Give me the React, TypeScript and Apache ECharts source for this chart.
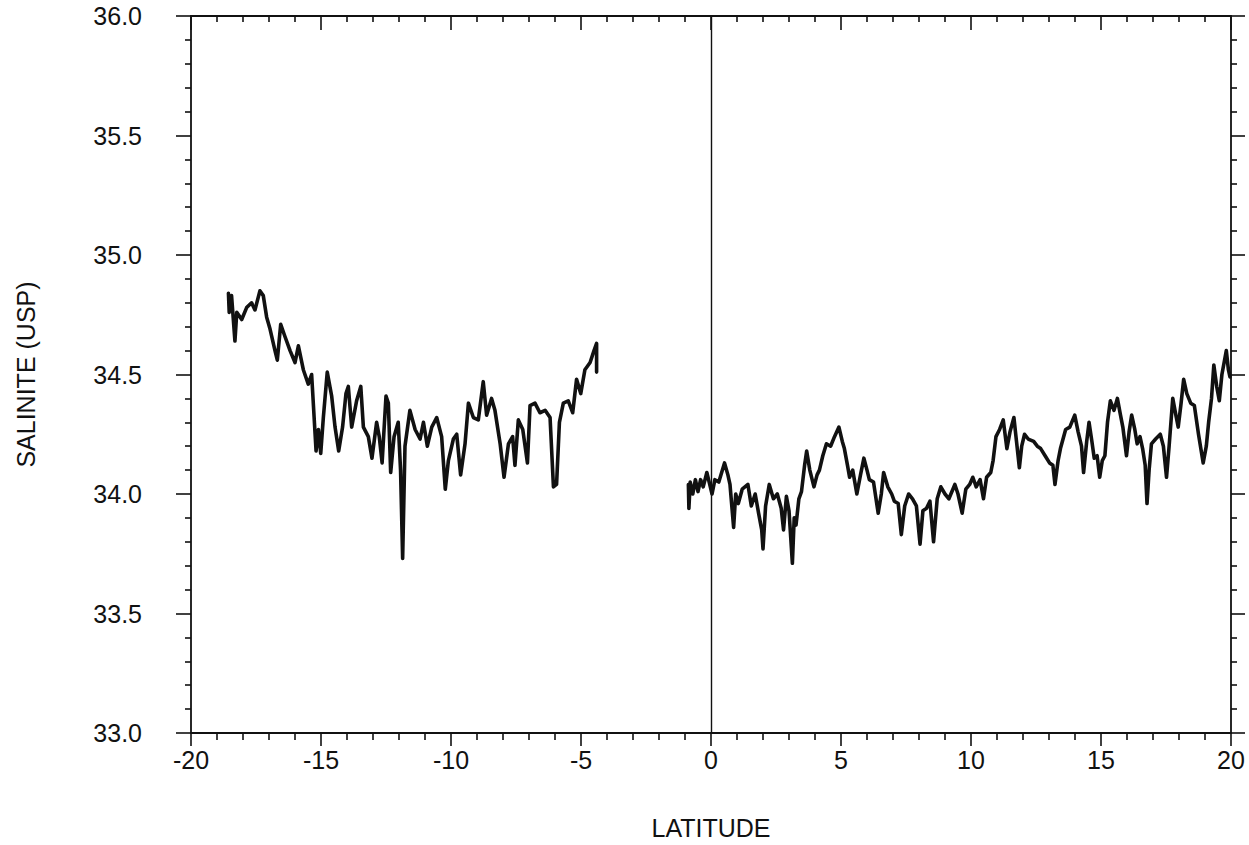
import React, { useEffect, useRef } from "react";
import * as echarts from "echarts";

// Axis configuration values
const xMin = -20;
const xMax = 20;
const xStep = 5;
const yMin = 33;
const yMax = 36;
const yStep = 0.5;

const xTitle = "LATITUDE";
const yTitle = "SALINITE (USP)";

// Southern segment (latitude, salinity)
const southLat = [
  -18.56, -18.53, -18.44, -18.31, -18.24, -18.05, -17.86, -17.67, -17.54, -17.35,
  -17.22, -17.09, -16.96, -16.77, -16.68, -16.55, -16.39, -16.19, -16.0, -15.87,
  -15.68, -15.49, -15.36, -15.19, -15.1, -15.01, -14.91, -14.76, -14.59, -14.46,
  -14.32, -14.17, -14.04, -13.95, -13.82, -13.63, -13.47, -13.37, -13.18, -13.04,
  -12.86, -12.76, -12.65, -12.5, -12.41, -12.32, -12.19, -12.03, -11.94, -11.86,
  -11.77, -11.58, -11.38, -11.19, -11.06, -10.91, -10.74, -10.55, -10.36, -10.22,
  -10.1, -9.91, -9.78, -9.63, -9.46, -9.33, -9.14, -8.95, -8.76, -8.63,
  -8.44, -8.31, -8.11, -7.96, -7.79, -7.63, -7.54, -7.41, -7.24, -7.06,
  -6.96, -6.77, -6.58, -6.38, -6.19, -6.06, -5.94, -5.83, -5.68, -5.49,
  -5.32, -5.17, -5.01, -4.85, -4.65, -4.5, -4.4, -4.4,
];
const southSal = [
  34.84, 34.76, 34.83, 34.64, 34.76, 34.73, 34.78, 34.8, 34.77, 34.85,
  34.83, 34.74, 34.69, 34.6, 34.56, 34.71, 34.66, 34.6, 34.55, 34.62,
  34.52, 34.46, 34.5, 34.18, 34.27, 34.17, 34.32, 34.51, 34.41, 34.28,
  34.18, 34.28, 34.42, 34.45, 34.28, 34.39, 34.45, 34.28, 34.24, 34.15,
  34.3, 34.24, 34.13, 34.41, 34.38, 34.09, 34.24, 34.3, 34.1, 33.73,
  34.2, 34.35, 34.27, 34.23, 34.3, 34.2, 34.28, 34.32, 34.24, 34.02,
  34.14, 34.23, 34.25, 34.08, 34.21, 34.38, 34.32, 34.31, 34.47, 34.33,
  34.4, 34.35, 34.21, 34.07, 34.21, 34.24, 34.12, 34.31, 34.27, 34.13,
  34.37, 34.38, 34.34, 34.35, 34.32, 34.03, 34.04, 34.3, 34.38, 34.39,
  34.34, 34.48, 34.42, 34.52, 34.55, 34.6, 34.63, 34.51,
];

// Northern segment (latitude, salinity)
const northLat = [
  -0.87, -0.85, -0.8, -0.7, -0.6, -0.5, -0.4, -0.3, -0.16, -0.05,
  0.04, 0.15, 0.3, 0.52, 0.65, 0.73, 0.87, 0.95, 1.05, 1.2,
  1.42, 1.55, 1.7, 1.83, 1.95, 2.0, 2.1, 2.24, 2.4, 2.55,
  2.7, 2.79, 2.9, 3.0, 3.13, 3.2, 3.27, 3.38, 3.48, 3.6,
  3.68, 3.8, 3.96, 4.08, 4.17, 4.3, 4.44, 4.6, 4.75, 4.92,
  5.05, 5.13, 5.25, 5.33, 5.45, 5.61, 5.75, 5.88, 6.0, 6.09,
  6.25, 6.43, 6.55, 6.64, 6.8, 6.95, 7.05, 7.2, 7.32, 7.45,
  7.6, 7.75, 7.9, 8.04, 8.15, 8.29, 8.42, 8.56, 8.7, 8.84,
  9.0, 9.15, 9.38, 9.5, 9.66, 9.8, 9.95, 10.07, 10.2, 10.35,
  10.48, 10.6, 10.76, 10.85, 10.96, 11.1, 11.24, 11.38, 11.5, 11.65,
  11.75, 11.86, 11.95, 12.06, 12.2, 12.41, 12.55, 12.68, 12.85, 13.02,
  13.15, 13.23, 13.35, 13.44, 13.64, 13.8, 13.99, 14.12, 14.25, 14.33,
  14.45, 14.54, 14.65, 14.74, 14.85, 14.95, 15.05, 15.15, 15.25, 15.36,
  15.5, 15.63, 15.75, 15.84, 15.98, 16.08, 16.18, 16.3, 16.39, 16.5,
  16.6, 16.7, 16.77, 16.85, 16.94, 17.1, 17.28, 17.4, 17.52, 17.62,
  17.76, 17.88, 17.97, 18.08, 18.18, 18.3, 18.45, 18.59, 18.75, 18.93,
  19.05, 19.14, 19.25, 19.34, 19.45, 19.55, 19.65, 19.82, 19.9, 19.96,
];
const northSal = [
  34.04, 33.94, 34.05, 34.0, 34.06, 34.01, 34.06, 34.03, 34.09, 34.04,
  34.0, 34.06, 34.05, 34.13, 34.08, 34.04, 33.86, 34.0, 33.96, 34.02,
  34.04, 33.95, 34.0, 33.92, 33.85, 33.77, 33.95, 34.04, 33.98, 34.0,
  33.94, 33.85, 33.99, 33.93, 33.71, 33.9, 33.87, 33.98, 34.01, 34.12,
  34.18, 34.1, 34.03, 34.08, 34.1, 34.16, 34.21, 34.2, 34.24, 34.28,
  34.22, 34.19, 34.12, 34.07, 34.1, 34.0, 34.08, 34.15, 34.1, 34.06,
  34.05, 33.92, 34.0, 34.09, 34.03, 34.0, 33.97, 33.96, 33.83, 33.95,
  34.0, 33.98, 33.95, 33.79, 33.93, 33.94, 33.97, 33.8, 33.98, 34.03,
  34.0, 33.98, 34.04, 34.0, 33.92, 34.02, 34.04, 34.07, 34.03, 34.06,
  33.98, 34.07, 34.09, 34.14, 34.24, 34.27, 34.31, 34.19, 34.26, 34.32,
  34.22, 34.11, 34.2, 34.25, 34.23, 34.22, 34.2, 34.19, 34.16, 34.13,
  34.12, 34.04, 34.14, 34.19, 34.27, 34.28, 34.33, 34.26, 34.2, 34.09,
  34.22, 34.3, 34.22, 34.15, 34.16, 34.07, 34.14, 34.16, 34.3, 34.39,
  34.35, 34.4, 34.33, 34.28, 34.16, 34.26, 34.33, 34.27, 34.21, 34.24,
  34.19, 34.12, 33.96, 34.1, 34.21, 34.23, 34.25, 34.2, 34.07, 34.2,
  34.4, 34.33, 34.28, 34.38, 34.48, 34.42, 34.38, 34.37, 34.25, 34.13,
  34.2, 34.3, 34.4, 34.54, 34.45, 34.39, 34.5, 34.6, 34.52, 34.49,
];

const INK = "#111111";
const FONT = "'Liberation Sans', Arial, Helvetica, sans-serif";

function zip(a: number[], b: number[]): number[][] {
  return a.map((v, i) => [v, b[i]]);
}

export default function App() {
  const ref = useRef<HTMLDivElement>(null);

  useEffect(() => {
    if (!ref.current) return;
    const chart = echarts.init(ref.current, undefined, { renderer: "svg" });

    const lineStyle = { color: INK, width: 1.8 };
    const tickStyle = { color: INK, width: 1.6 };

    const commonX = {
      type: "value" as const,
      min: xMin,
      max: xMax,
      interval: xStep,
      splitLine: { show: false },
      axisLine: { show: true, onZero: false, lineStyle },
    };
    const commonY = {
      type: "value" as const,
      min: yMin,
      max: yMax,
      interval: yStep,
      splitLine: { show: false },
      axisLine: { show: true, onZero: false, lineStyle },
    };

    const traceStyle = { color: INK, width: 3.6, join: "round" as const, cap: "round" as const };

    chart.setOption({
      animation: false,
      backgroundColor: "#ffffff",
      grid: { left: 191, right: 18, top: 16, bottom: 112, containLabel: false },
      xAxis: [
        {
          ...commonX,
          position: "bottom",
          name: xTitle,
          nameLocation: "middle",
          nameGap: 82,
          nameTextStyle: { color: INK, fontSize: 25, fontFamily: FONT },
          axisTick: { show: true, inside: false, length: 13, lineStyle: tickStyle },
          minorTick: { show: true, splitNumber: 5, length: 7, lineStyle: tickStyle },
          axisLabel: { show: true, margin: 14, color: INK, fontSize: 25, fontFamily: FONT },
        },
        {
          ...commonX,
          position: "top",
          axisTick: { show: true, inside: true, length: 14, lineStyle: tickStyle },
          minorTick: { show: true, splitNumber: 5, length: 6, lineStyle: tickStyle },
          axisLabel: { show: false },
        },
      ],
      yAxis: [
        {
          ...commonY,
          position: "left",
          name: yTitle,
          nameLocation: "middle",
          nameRotate: 90,
          nameGap: 153,
          nameTextStyle: { color: INK, fontSize: 25, fontFamily: FONT },
          axisTick: { show: true, inside: false, length: 15, lineStyle: tickStyle },
          minorTick: { show: true, splitNumber: 5, length: 6, lineStyle: tickStyle },
          axisLabel: {
            show: true,
            margin: 49,
            color: INK,
            fontSize: 25,
            fontFamily: FONT,
            formatter: (v: number) => v.toFixed(1),
          },
        },
        {
          ...commonY,
          position: "right",
          axisTick: { show: true, inside: false, length: 14, lineStyle: tickStyle },
          minorTick: { show: true, splitNumber: 5, length: 6, lineStyle: tickStyle },
          axisLabel: { show: false },
        },
      ],
      series: [
        {
          type: "line",
          name: "south",
          xAxisIndex: 0,
          yAxisIndex: 0,
          data: zip(southLat, southSal),
          showSymbol: false,
          symbol: "none",
          lineStyle: traceStyle,
          silent: true,
          markLine: {
            silent: true,
            symbol: ["none", "none"],
            label: { show: false },
            lineStyle: { color: INK, width: 1.4, type: "solid" },
            data: [{ xAxis: 0 }],
          },
        },
        {
          type: "line",
          name: "north",
          xAxisIndex: 0,
          yAxisIndex: 0,
          data: zip(northLat, northSal),
          showSymbol: false,
          symbol: "none",
          lineStyle: traceStyle,
          silent: true,
        },
      ],
    });

    return () => chart.dispose();
  }, []);

  return (
    <div
      ref={ref}
      style={{ position: "fixed", left: 0, top: 0, width: 1249, height: 845, background: "#fff" }}
    />
  );
}
